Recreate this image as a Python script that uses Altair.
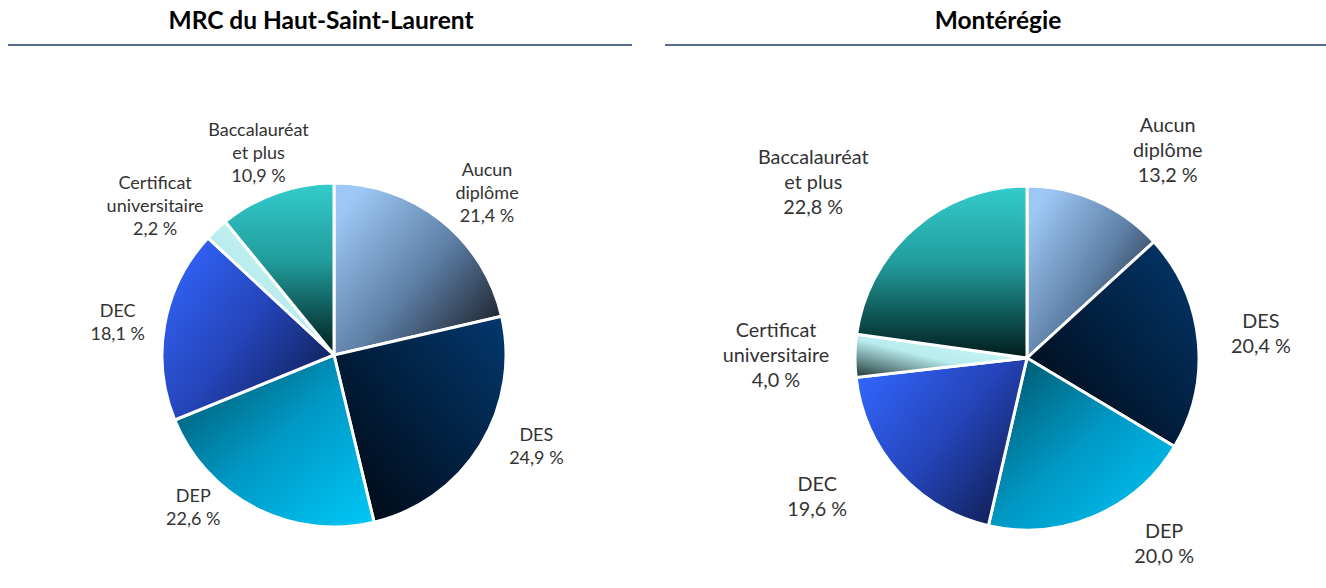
import math
import pandas as pd
import altair as alt

# ---- data ----
regions = ["MRC du Haut-Saint-Laurent", "Montérégie"]
categories = ["Aucun diplôme", "DES", "DEP", "DEC", "Certificat universitaire", "Baccalauréat et plus"]
label_names = ["Aucun|diplôme", "DES", "DEP", "DEC", "Certificat|universitaire", "Baccalauréat|et plus"]
values_hsl = [21.4, 24.9, 22.6, 18.1, 2.2, 10.9]
values_monteregie = [13.2, 20.4, 20.0, 19.6, 4.0, 22.8]

rows = []
for reg, vals in zip(regions, [values_hsl, values_monteregie]):
    for i, (c, lab, v) in enumerate(zip(categories, label_names, vals)):
        rows.append({"region": reg, "cat": c, "lab": lab, "order": i, "value": v})
df = pd.DataFrame(rows)

# ---- style ----
panel_style = {
    "MRC du Haut-Saint-Laurent": {
        "cx": 334, "cy": 355, "lab_r": 225, "tx": 321, "rx1": 8, "rx2": 632,
        "fs": 18, "lh": 23,
        "offsets": [(13, -8), (11, -37), (-38, -58), (5, -3), (-25, -7), (0, -12)],
    },
    "Montérégie": {
        "cx": 1027, "cy": 358, "lab_r": 225, "tx": 998, "rx1": 665, "rx2": 1326,
        "fs": 19.8, "lh": 25,
        "offsets": [(50, -26), (10, -13), (49, -33), (-42, -23), (-26, -24), (-66, -30)],
    },
}
PIE_R = 172


def grad(x1, y1, x2, y2, stops):
    return alt.LinearGradient(
        gradient="linear", x1=x1, y1=y1, x2=x2, y2=y2,
        stops=[alt.GradientStop(offset=o, color=c) for o, c in stops],
    )


gradients = {
    "Aucun diplôme": grad(0.1, 0.1, 1, 0.9, [(0, "#9DC8F5"), (0.5, "#5E7FA6"), (1, "#161B22")]),
    "DES": grad(1, 0, 0, 1, [(0, "#03386E"), (1, "#00060E")]),
    "DEP": grad(0, 0, 1, 1, [(0, "#004F62"), (0.5, "#0098C4"), (1, "#00C8F8")]),
    "DEC": grad(0, 0.1, 1, 0.9, [(0, "#3366FF"), (0.5, "#2444B8"), (1, "#0E1B48")]),
    "Certificat universitaire": grad(1, 0, 0, 1, [(0, "#D6FAFC"), (0.55, "#B8ECEE"), (1, "#1E3434")]),
    "Baccalauréat et plus": grad(0, 0, 0, 1, [(0, "#33CCCC"), (0.45, "#229C9C"), (1, "#001C1C")]),
}

theta_scale = alt.Scale(domain=[0, 1], range=[0, 2 * math.pi])
FONT = "Lato"

base = alt.Chart(df)
layers = []
for reg in regions:
    st = panel_style[reg]
    prepared = (
        base.transform_filter(alt.datum.region == reg)
        .transform_joinaggregate(total="sum(value)")
        .transform_window(cum="sum(value)", sort=[alt.SortField("order")], frame=[None, 0])
        .transform_calculate(
            start="(datum.cum - datum.value) / datum.total",
            end="datum.cum / datum.total",
            mid="(datum.cum - datum.value / 2) / datum.total",
            text="datum.lab + '|' + replace(format(datum.value, '.1f'), '.', ',') + ' %'",
        )
    )
    for c in categories:
        layers.append(
            prepared.transform_filter(alt.datum.cat == c)
            .mark_arc(fill=gradients[c], stroke="white", strokeWidth=3)
            .encode(
                theta=alt.Theta("start:Q", scale=theta_scale),
                theta2="end:Q",
                radius=alt.value(PIE_R),
                x=alt.value(st["cx"]),
                y=alt.value(st["cy"]),
            )
        )
    for c, (odx, ody) in zip(categories, st["offsets"]):
        layers.append(
            prepared.transform_filter(alt.datum.cat == c)
            .mark_text(
                font=FONT, fontSize=st["fs"], color="#333333", lineBreak="|",
                lineHeight=st["lh"], align="center", baseline="middle", dx=odx, dy=ody,
            )
            .encode(
                theta=alt.Theta("mid:Q", scale=theta_scale),
                radius=alt.value(st["lab_r"]),
                x=alt.value(st["cx"]),
                y=alt.value(st["cy"]),
                text="text:N",
            )
        )
    # title
    layers.append(
        base.transform_filter(alt.datum.region == reg)
        .transform_aggregate(groupby=["region"])
        .mark_text(font=FONT, fontSize=24.5, fontWeight="bold", color="black",
                   align="center", baseline="middle")
        .encode(x=alt.value(st["tx"]), y=alt.value(22), text="region:N")
    )
    # underline
    layers.append(
        base.transform_filter(alt.datum.region == reg)
        .transform_aggregate(groupby=["region"])
        .mark_rule(color="#1F3864", strokeWidth=1.5)
        .encode(x=alt.value(st["rx1"]), x2=alt.value(st["rx2"]), y=alt.value(45))
    )

chart = (
    alt.layer(*layers)
    .properties(width=1326, height=588, autosize="none", padding=0, background="white")
    .configure_view(strokeWidth=0)
)

chart.save("out.html", embed_options={"renderer": "svg", "actions": False})
